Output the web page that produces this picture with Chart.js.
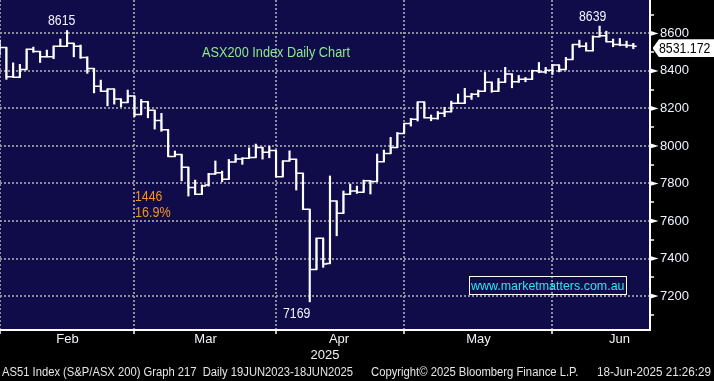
<!DOCTYPE html>
<html><head><meta charset="utf-8">
<script src="https://cdn.jsdelivr.net/npm/chart.js@4.4.1/dist/chart.umd.min.js"></script>
<style>
html,body{margin:0;padding:0;background:#000;}
#wrap{position:relative;width:714px;height:381px;overflow:hidden;background:#000;font-family:'Liberation Sans',Arial,sans-serif;}
canvas{position:absolute;left:0;top:0;}
.t{position:absolute;white-space:nowrap;transform-origin:0 50%;}
#site{position:absolute;left:469px;top:276px;width:156px;height:17px;border:1px solid #fff;}
#pbox{position:absolute;left:652.5px;top:39.3px;width:62px;height:18px;background:#fff;clip-path:polygon(0 50%,6.5px 0,100% 0,100% 100%,6.5px 100%);}
</style></head><body>
<div id="wrap">
<canvas id="c" width="714" height="381"></canvas>
<div id="site"></div>
<div id="pbox"></div>
<div class="t" data-x="47.7" data-cy="20.3" data-w="27.3" data-s="14" style="color:#f4f4ff">8615</div>
<div class="t" data-x="579.3" data-cy="15.8" data-w="27.3" data-s="14" style="color:#f4f4ff">8639</div>
<div class="t" data-x="135" data-cy="196.2" data-w="27.3" data-s="14" style="color:#f5931e">1446</div>
<div class="t" data-x="135" data-cy="212.2" data-w="35.7" data-s="14" style="color:#f5931e">16.9%</div>
<div class="t" data-x="283.3" data-cy="312.7" data-w="27.3" data-s="14" style="color:#f4f4ff">7169</div>
<div class="t" data-x="202.3" data-cy="52.3" data-w="148" data-s="14" style="color:#8ce98c">ASX200 Index Daily Chart</div>
<div class="t" data-x="471" data-cy="285.3" data-w="153.5" data-s="13.5" style="color:#2ee6f2">www.marketmatters.com.au</div>
<div class="t" data-x="659.3" data-cy="48.3" data-w="51.4" data-s="14" style="color:#000">8531.172</div>
<div class="t" data-x="1.7" data-cy="372.5" data-w="351" data-s="12.5" style="color:#e6e6e6">AS51 Index (S&amp;P/ASX 200) Graph 217&nbsp;&nbsp;Daily 19JUN2023-18JUN2025</div>
<div class="t" data-x="370.7" data-cy="372.5" data-w="207.3" data-s="12.5" style="color:#e6e6e6">Copyright© 2025 Bloomberg Finance L.P.</div>
<div class="t" data-x="596.7" data-cy="372.5" data-w="114" data-s="12.5" style="color:#e6e6e6">18-Jun-2025 21:26:29</div>
</div>
<script>
// ---- data (trading days, first entry is the last January session) ----
const DAYS = ['2025-01-31',
 '2025-02-03','2025-02-04','2025-02-05','2025-02-06','2025-02-07','2025-02-10','2025-02-11','2025-02-12','2025-02-13','2025-02-14',
 '2025-02-17','2025-02-18','2025-02-19','2025-02-20','2025-02-21','2025-02-24','2025-02-25','2025-02-26','2025-02-27','2025-02-28',
 '2025-03-03','2025-03-04','2025-03-05','2025-03-06','2025-03-07','2025-03-10','2025-03-11','2025-03-12','2025-03-13','2025-03-14',
 '2025-03-17','2025-03-18','2025-03-19','2025-03-20','2025-03-21','2025-03-24','2025-03-25','2025-03-26','2025-03-27','2025-03-28','2025-03-31',
 '2025-04-01','2025-04-02','2025-04-03','2025-04-04','2025-04-07','2025-04-08','2025-04-09','2025-04-10','2025-04-11','2025-04-14',
 '2025-04-15','2025-04-16','2025-04-17','2025-04-22','2025-04-23','2025-04-24','2025-04-28','2025-04-29','2025-04-30',
 '2025-05-01','2025-05-02','2025-05-05','2025-05-06','2025-05-07','2025-05-08','2025-05-09','2025-05-12','2025-05-13','2025-05-14',
 '2025-05-15','2025-05-16','2025-05-19','2025-05-20','2025-05-21','2025-05-22','2025-05-23','2025-05-26','2025-05-27','2025-05-28','2025-05-29','2025-05-30',
 '2025-06-02','2025-06-03','2025-06-04','2025-06-05','2025-06-06','2025-06-10','2025-06-11','2025-06-12','2025-06-13','2025-06-16','2025-06-17','2025-06-18'];

const HIGH = [8564,
 8525,8443,8435,8516,8527,8504,8511,8532,8570,8615,8547,8538,8475,8413,8351,8303,8303,8250,8298,8266,
 8248,8236,8190,8174,8086,7973,7955,7886,7818,7792,7854,7920,7866,7928,7955,7937,7990,8010,7992,7999,7976,
 7920,7974,7929,7854,7662,7508,7508,7840,7706,7760,7797,7786,7818,7815,7957,7978,8046,8072,8120,
 8147,8234,8234,8165,8184,8206,8239,8277,8307,8280,8298,8392,8340,8360,8419,8383,8376,8365,8404,8445,8419,8435,
 8431,8472,8541,8564,8550,8587,8639,8612,8570,8573,8559,8547];

const LOW = [8484,
 8355,8366,8366,8408,8499,8445,8475,8465,8532,8532,8475,8467,8387,8283,8291,8214,8223,8209,8232,8156,
 8168,8150,8090,8078,7944,7944,7814,7733,7740,7742,7786,7850,7809,7822,7914,7902,7934,7939,7930,7937,7836,
 7836,7920,7765,7662,7169,7342,7353,7374,7521,7641,7742,7747,7753,7744,7811,7916,7960,7992,8067,
 8106,8133,8150,8134,8143,8156,8182,8227,8227,8248,8262,8292,8286,8291,8340,8310,8339,8342,8355,8390,8387,8381,
 8395,8408,8461,8525,8507,8507,8582,8555,8529,8534,8525,8518];

const OPEN = [8530,
 8525,8369,8366,8408,8516,8504,8475,8475,8532,8532,8547,8532,8472,8413,8318,8291,8303,8250,8232,8266,
 8168,8236,8190,8136,8086,7944,7955,7886,7779,7742,7792,7850,7857,7822,7914,7930,7934,7939,7992,7967,7976,
 7836,7920,7929,7854,7662,7342,7508,7374,7706,7641,7742,7760,7753,7815,7811,7916,7960,7992,8067,
 8120,8143,8234,8150,8147,8174,8182,8227,8227,8264,8275,8292,8340,8291,8340,8383,8342,8355,8355,8401,8394,8404,
 8431,8408,8461,8541,8532,8507,8582,8587,8555,8541,8538,8536];

const CLOSE = [8525,
 8369,8366,8408,8516,8504,8475,8475,8532,8532,8547,8532,8472,8413,8318,8291,8303,8250,8232,8266,8168,
 8236,8190,8136,8086,7944,7955,7886,7779,7742,7786,7850,7857,7822,7914,7930,7934,7939,7992,7967,7976,7836,
 7920,7929,7854,7662,7342,7508,7371,7706,7641,7742,7760,7753,7815,7811,7916,7960,7992,8067,8120,
 8143,8234,8150,8147,8174,8182,8227,8227,8264,8275,8292,8340,8291,8340,8383,8342,8355,8355,8401,8394,8404,8431,
 8408,8461,8541,8532,8507,8582,8587,8555,8541,8538,8536,8531];

// axis ticks (x values are session numbers, 0 = 3 Feb)
const MONTH_LABELS = ['Feb','Mar','Apr','May','Jun'];
const MONTH_LABEL_POS = [9.06, 29.54, 49.34, 70.04, 90.95];
const MONTH_END_POS = [-0.9, 19, 40, 59, 81];
const YEAR_LABEL = '2025';
const YEAR_LABEL_POS = 47.26;
const Y_TICKS = [7100,7200,7300,7400,7500,7600,7700,7800,7900,8000,8100,8200,8300,8400,8500,8600,8700];
const Y_LABEL_STEP = 200;

// ---- layout constants ----
const XMIN = -0.949, XMAX = 95.476, YMIN = 7019, YMAX = 8778;
const GRID = 'rgba(150,150,160,0.95)';
const FONT = "'Liberation Sans', Arial, sans-serif";

const FIRST_X = -1;
const hlData = DAYS.map((d, k) => ({x: k + FIRST_X, y: [LOW[k], HIGH[k]]}));
const ocData = [];
DAYS.forEach((d, k) => {
  const x = k + FIRST_X;
  ocData.push({x: x - 0.5, y: OPEN[k]}, {x: x, y: OPEN[k]}, {x: x, y: CLOSE[k]}, {x: x + 0.5, y: CLOSE[k]});
});

const xTickMap = new Map();
MONTH_END_POS.forEach(v => xTickMap.set(v, {label: '', end: true}));
MONTH_LABEL_POS.forEach((v, i) => xTickMap.set(v, {label: MONTH_LABELS[i], end: false}));
xTickMap.set(YEAR_LABEL_POS, {label: ['', YEAR_LABEL], end: false});
const xTickVals = Array.from(xTickMap.keys()).sort((a, b) => a - b);
const isEnd = v => { const t = xTickMap.get(v); return t ? t.end : false; };

const bgPlugin = {
  id: 'bg',
  beforeDraw(chart) {
    const {ctx, chartArea: a} = chart;
    ctx.save();
    ctx.fillStyle = '#000';
    ctx.fillRect(0, 0, chart.width, chart.height);
    ctx.fillStyle = '#0f0c49';
    ctx.fillRect(a.left, a.top, a.right - a.left, a.bottom - a.top);
    ctx.restore();
  }
};
const arrowPlugin = {
  id: 'arrows',
  afterDraw(chart) {
    const {ctx} = chart;
    const ys = chart.scales.y;
    ctx.save();
    ctx.fillStyle = '#fff';
    Y_TICKS.filter(v => v % Y_LABEL_STEP === 0).forEach(v => {
      const y = ys.getPixelForValue(v);
      ctx.beginPath();
      ctx.moveTo(ys.left, y - 2.6);
      ctx.lineTo(ys.left + 8.5, y);
      ctx.lineTo(ys.left, y + 2.6);
      ctx.closePath();
      ctx.fill();
    });
    ctx.restore();
  }
};

new Chart(document.getElementById('c'), {
  type: 'line',
  data: {
    datasets: [
      {type: 'bar', data: hlData, backgroundColor: '#ffffff', borderWidth: 0, barThickness: 1.5, grouped: false, order: 2},
      {type: 'line', data: ocData, borderColor: '#ffffff', borderWidth: 1.5, pointRadius: 0, tension: 0, fill: false, order: 1}
    ]
  },
  options: {
    responsive: false, animation: false, devicePixelRatio: 1,
    layout: {padding: 0},
    plugins: {legend: {display: false}, tooltip: {enabled: false}},
    scales: {
      x: {
        type: 'linear', min: XMIN, max: XMAX, offset: false,
        afterBuildTicks: s => { s.ticks = xTickVals.map(v => ({value: v})); },
        afterFit: s => { s.height = 51; s.paddingLeft = 0; s.paddingRight = 0; },
        ticks: {
          autoSkip: false, maxRotation: 0, minRotation: 0, padding: -2, color: '#f2f2f6',
          font: {family: FONT, size: 13, lineHeight: 1.2},
          callback: v => (xTickMap.get(v) || {label: ''}).label
        },
        grid: {
          offset: false,
          color: c => (c.tick && isEnd(c.tick.value)) ? GRID : 'transparent',
          tickColor: c => (c.tick && isEnd(c.tick.value)) ? '#ffffff' : 'transparent',
          lineWidth: 2, tickLength: 4, tickWidth: 1.5
        },
        border: {display: true, color: '#ffffff', width: 2, dash: [2, 2]}
      },
      y: {
        type: 'linear', position: 'right', min: YMIN, max: YMAX, beginAtZero: false,
        afterBuildTicks: s => { s.ticks = Y_TICKS.map(v => ({value: v})); },
        afterFit: s => { s.width = 64; s.paddingTop = 0; s.paddingBottom = 0; },
        ticks: {
          padding: 6, color: '#f0f2ff', font: {family: FONT, size: 13},
          callback: v => (v % Y_LABEL_STEP === 0 ? String(v) : '')
        },
        grid: {
          offset: false,
          color: c => (c.tick && c.tick.value % Y_LABEL_STEP === 0) ? GRID : 'transparent',
          tickColor: c => (c.tick && c.tick.value % Y_LABEL_STEP === 0) ? 'transparent' : '#ffffff',
          lineWidth: 2, tickLength: 4, tickWidth: 1.5
        },
        border: {display: true, color: '#ffffff', width: 2, dash: [2, 2]}
      }
    }
  },
  plugins: [bgPlugin, arrowPlugin]
});

// overlay texts: place and fit to measured widths
document.querySelectorAll('.t').forEach(el => {
  const s = parseFloat(el.dataset.s);
  el.style.fontSize = s + 'px';
  el.style.lineHeight = s + 'px';
  el.style.left = el.dataset.x + 'px';
  el.style.top = (parseFloat(el.dataset.cy) - s / 2) + 'px';
  const w = el.getBoundingClientRect().width;
  el.style.transform = 'scaleX(' + (parseFloat(el.dataset.w) / w) + ')';
});
</script>
</body></html>
